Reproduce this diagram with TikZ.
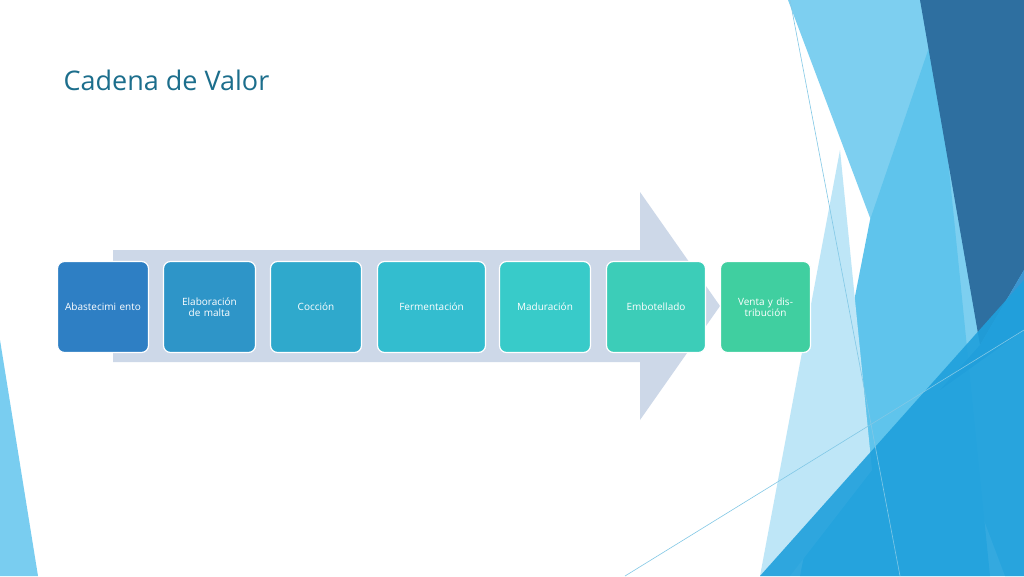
\documentclass[tikz,border=0pt]{standalone}
\usepackage{fontspec}
\setmainfont{Open Sans}
\begin{document}
\begin{tikzpicture}[x=1pt,y=-1pt,
  stepbox/.style={draw=white,line width=1.2pt,rounded corners=7pt,minimum width=#1,minimum height=91pt,text width=#1-8pt,align=center,text=white,font=\fontsize{10}{11}\selectfont,inner sep=2pt},
  deco/.style={draw=none}]
\useasboundingbox (0,0) rectangle (1024,576);
\fill[white] (0,0) rectangle (1024,576);
% decoration
\fill[color={rgb,255:red,121;green,205;blue,240}] (0,340) -- (38,576) -- (0,576) -- cycle;
\fill[color={rgb,255:red,125;green,207;blue,240}] (788,0) -- (1024,0) -- (1024,576) -- (1005,576) -- cycle;
\fill[color={rgb,255:red,95;green,196;blue,236}] (935,30) -- (990,576) -- (800,576) -- (870,220) -- cycle;
\fill[color={rgb,255:red,190;green,230;blue,247}] (840,150) -- (872,470) -- (790,576) -- (760,576) -- cycle;
\fill[color={rgb,255:red,46;green,111;blue,160}] (920,0) -- (1024,0) -- (1024,270) -- (980,345) -- cycle;
\fill[color={rgb,255:red,58;green,150;blue,210}] (1024,270) -- (980,345) -- (940,390) -- (1024,330) -- cycle;
\fill[color={rgb,255:red,31;green,160;blue,220},opacity=0.9] (760,576) -- (1024,280) -- (1024,576) -- cycle;
\draw[color={rgb,255:red,130;green,200;blue,230},line width=0.6pt] (790,0) -- (900,576);
\draw[color={rgb,255:red,130;green,200;blue,230},line width=0.6pt] (625,576) -- (1024,330);
% title
\node[anchor=west,text={rgb,255:red,28;green,110;blue,140},font=\fontsize{27}{30}\selectfont] (title) at (60,80) {Cadena de Valor};
% arrow
\fill[color={rgb,255:red,205;green,216;blue,232}] (113,250) -- (640,250) -- (640,192) -- (720,306) -- (640,420) -- (640,362) -- (113,362) -- cycle;
% boxes
\node[stepbox=91pt,fill={rgb,255:red,46;green,127;blue,196}] (b1) at (103,307) {Abastecimi ento};
\node[stepbox=92pt,fill={rgb,255:red,46;green,149;blue,200}] (b2) at (209.5,307) {Elaboración de malta};
\node[stepbox=91pt,fill={rgb,255:red,47;green,169;blue,204}] (b3) at (316,307) {Cocción};
\node[stepbox=108pt,fill={rgb,255:red,51;green,189;blue,207}] (b4) at (431.5,307) {Fermentación};
\node[stepbox=91pt,fill={rgb,255:red,56;green,203;blue,201}] (b5) at (545,307) {Maduración};
\node[stepbox=99pt,fill={rgb,255:red,60;green,205;blue,184}] (b6) at (656,307) {Embotellado};
\node[stepbox=90pt,fill={rgb,255:red,64;green,207;blue,160}] (b7) at (765.5,307) {Venta y distribución};
\end{tikzpicture}
\end{document}
